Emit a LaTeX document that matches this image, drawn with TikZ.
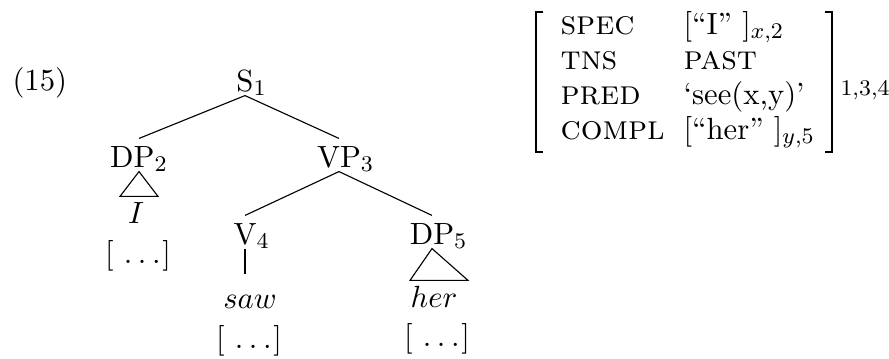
\documentclass[tikz,border=0pt]{standalone}
\usetikzlibrary{calc}
\newcommand{\mydots}{[\ .\kern2pt.\kern2pt.\kern0.6pt]}
\newcommand{\attrsc}[1]{{\fontsize{12.2pt}{14pt}\selectfont\textsc{#1}}}
\begin{document}
\begin{tikzpicture}[x=0.357pt,y=-0.357pt,
  every node/.style={font=\fontsize{10.95pt}{13.6pt}\selectfont},
  tn/.style={inner sep=0pt,anchor=base,text height=10pt,text depth=1.43pt},
  leaf/.style={inner sep=0pt,anchor=base,text height=9.3pt,text depth=0pt},
  plain/.style={inner sep=0pt,anchor=base},
  attr/.style={inner sep=0pt,anchor=base west},
  edge/.style={line width=0.4pt},
  brk/.style={line width=0.9pt}]
\useasboundingbox (0,0) rectangle (889,358);
% example number
\node[attr] (num) at (12,90) {(15)};
% tree
\node[tn] (S) at (245,91) {S\rlap{$_1$}};
\node[tn] (DP2) at (139,167) {DP$_2$};
\node[tn] (VP3) at (339,167) {VP\rlap{$_3$}};
\node[tn] (V4) at (245,244) {V\rlap{$_4$}};
\node[tn] (DP5) at (432,244) {DP\rlap{$_5$}};
\node[leaf] (I) at (136,223) {$I$};
\node[plain] (d1) at (138,263) {\mydots};
\node[leaf,text height=11.8pt] (saw) at (250,308) {$saw$};
\node[plain] (d2) at (249,348) {\mydots};
\node[leaf] (her) at (434,307) {$her$};
\node[plain] (d3) at (437,346) {\mydots};
\draw[edge] (S.south) -- (DP2.north);
\draw[edge] (S.south) -- (VP3.north);
\draw[edge] (VP3.south) -- (V4.north);
\draw[edge] (VP3.south) -- (DP5.north);
\draw[edge] (V4.south) -- (V4.south |- saw.north);
\coordinate (t1) at (DP2.south |- I.north);
\draw[edge] (DP2.south) -- ($(t1)+(-19,0)$) -- ($(t1)+(19,0)$) -- cycle;
\draw[edge] (DP5.south) -- ($(her.north)+(-24,0)$) -- ($(her.north)+(34,0)$) -- cycle;
% AVM
\node[attr] (a1) at (560,34) {\attrsc{spec}};
\node[attr] (a2) at (560,69) {\attrsc{tns}};
\node[attr] (a3) at (560,104) {\attrsc{pred}};
\node[attr] (a4) at (560,139) {\attrsc{compl}};
\node[attr] (v1) at (683,34) {[``I'' ]$_{x,2}$};
\node[attr] (v2) at (683,69) {\attrsc{past}};
\node[attr] (v3) at (683,104) {`see(x,y)'};
\node[attr] (v4) at (683,139) {[``her'' ]$_{y,5}$};
\coordinate (lt) at (536,12);
\coordinate (lb) at (536,152);
\coordinate (rt) at (832,12);
\coordinate (rb) at (832,152);
\draw[brk] ($(lt)+(7,0)$) -- (lt) -- (lb) -- ($(lb)+(7,0)$);
\draw[brk] ($(rt)+(-7,0)$) -- (rt) -- (rb) -- ($(rb)+(-7,0)$);
\node[attr] (tag) at (840,95) {$\scriptstyle 1,3,4$};
\end{tikzpicture}
\end{document}
